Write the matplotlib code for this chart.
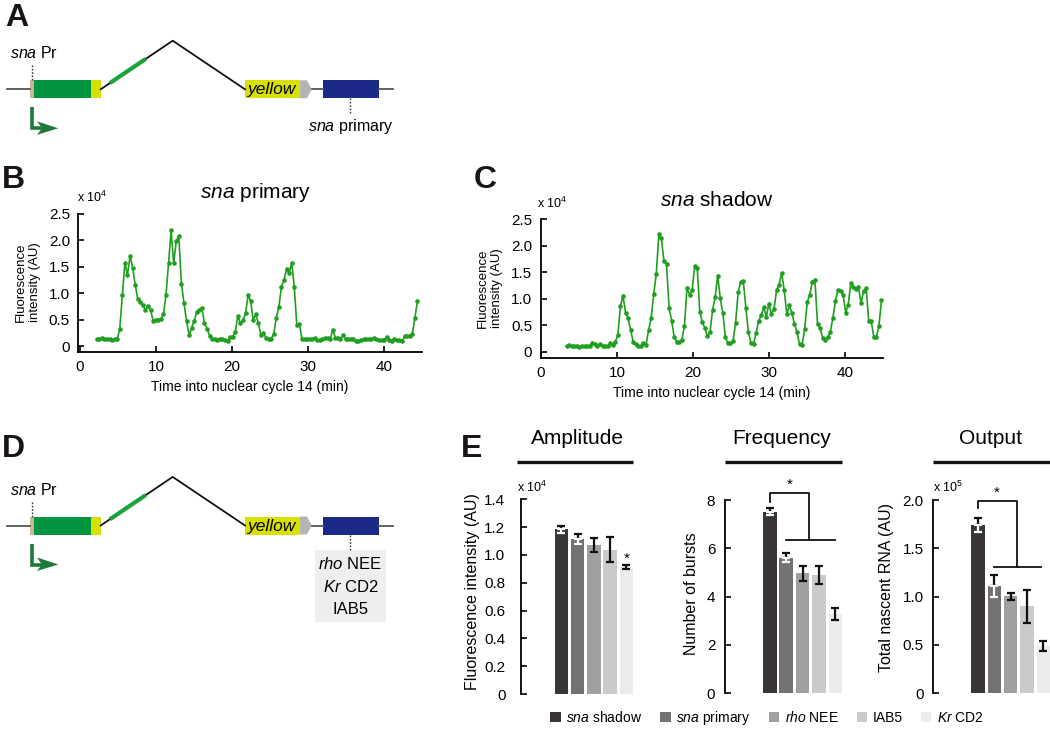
import numpy as np
import matplotlib
matplotlib.use("Agg")
import matplotlib.pyplot as plt
from matplotlib.patches import Rectangle, Polygon, Patch

plt.rcParams['font.family'] = ['Liberation Sans', 'DejaVu Sans']
plt.rcParams['mathtext.fontset'] = 'custom'
plt.rcParams['mathtext.rm'] = 'Liberation Sans'
plt.rcParams['mathtext.it'] = 'Liberation Sans:italic'
plt.rcParams['mathtext.bf'] = 'Liberation Sans:bold'

# ---------------- data ----------------
primary_t_start, primary_t_end = 2.2, 44.4
primary_vals = [0.13, 0.13, 0.16, 0.14, 0.14, 0.13, 0.11, 0.13, 0.13, 0.33, 0.96, 1.57, 1.34, 1.70,
                1.48, 1.16, 0.89, 0.84, 0.77, 0.68, 0.76, 0.68, 0.48, 0.50, 0.50, 0.51, 0.60, 0.96,
                1.56, 2.18, 1.56, 1.98, 2.08, 1.18, 0.82, 0.48, 0.21, 0.35, 0.48, 0.64, 0.69, 0.72,
                0.43, 0.33, 0.20, 0.14, 0.14, 0.12, 0.14, 0.13, 0.11, 0.10, 0.17, 0.18, 0.27, 0.57,
                0.43, 0.49, 0.62,
                0.96, 0.85, 0.49, 0.60, 0.43, 0.21, 0.24, 0.16, 0.13, 0.14, 0.23, 0.54, 0.74, 1.12,
                1.24, 1.46, 1.37, 1.57, 1.12, 0.39, 0.41, 0.13, 0.13, 0.13, 0.13, 0.14, 0.15, 0.12,
                0.11, 0.13, 0.15, 0.16, 0.13, 0.31, 0.16, 0.16, 0.14, 0.21, 0.13, 0.14, 0.14, 0.14,
                0.10, 0.10, 0.12, 0.13, 0.13, 0.13, 0.13, 0.15, 0.13, 0.12, 0.11, 0.11, 0.17, 0.12,
                0.09, 0.14, 0.12, 0.12, 0.09, 0.19, 0.20, 0.20, 0.23, 0.53, 0.85]

shadow_t_start, shadow_t_end = 3.4, 44.8
shadow_vals = [0.11, 0.125, 0.11, 0.11, 0.12, 0.09, 0.11, 0.11, 0.11, 0.12, 0.16, 0.14, 0.11, 0.14,
               0.11, 0.11, 0.11, 0.16, 0.13, 0.19, 0.32, 0.86, 1.06, 0.74, 0.63, 0.41, 0.19, 0.14,
               0.11, 0.11, 0.17, 0.125, 0.41, 0.64, 1.09, 1.47, 2.22, 2.14, 1.71, 1.66, 0.83, 0.59,
               0.28, 0.19, 0.19, 0.23, 0.48, 1.21, 1.08, 1.16, 1.61,
               1.58, 0.75, 0.56, 0.45, 0.29, 0.375, 0.79, 1.03, 1.44, 1.01, 0.73, 0.28, 0.16, 0.17,
               0.21, 0.55, 1.125, 1.32, 1.34, 0.83, 0.375, 0.16, 0.14, 0.36, 0.58, 0.69, 0.84, 0.66,
               0.91, 0.71, 0.80, 1.16, 1.27, 1.49, 1.16, 0.72, 0.875, 0.73, 0.53, 0.375, 0.14, 0.125,
               0.44, 0.94, 1.08, 1.325, 1.36, 0.53, 0.45, 0.27, 0.23, 0.28, 0.37, 0.64, 0.95, 1.17,
               1.15, 1.075, 0.74, 0.89, 1.29, 1.23, 1.19, 1.22, 0.925, 1.14, 1.21, 0.59, 0.58, 0.28,
               0.28, 0.49, 0.97]

groups = ["sna shadow", "sna primary", "rho NEE", "IAB5", "Kr CD2"]
group_labels = [r"$\mathit{sna}$ shadow", r"$\mathit{sna}$ primary", r"$\mathit{rho}$ NEE",
                "IAB5", r"$\mathit{Kr}$ CD2"]
amplitude = [1.185, 1.113, 1.07, 1.036, 0.916]
amplitude_err = [0.026, 0.036, 0.05, 0.09, 0.014]
frequency = [7.52, 5.61, 4.96, 4.89, 3.28]
frequency_err = [0.13, 0.19, 0.32, 0.36, 0.24]
output = [1.74, 1.11, 1.005, 0.90, 0.49]
output_err = [0.072, 0.109, 0.035, 0.17, 0.05]

bar_colors = ['#3a3536', '#727272', '#a0a0a0', '#cacaca', '#ececec']
green = '#1f9e1f'

W, H = 1050, 735
fig = plt.figure(figsize=(W / 100, H / 100), dpi=100)


def ax_px(l, t, r, b, **kw):
    return fig.add_axes([l / W, 1 - b / H, (r - l) / W, (b - t) / H], **kw)


def ftext(x, y, s, **kw):
    return fig.text(x / W, 1 - y / H, s, **kw)


# ---------------- diagrams (A, D) ----------------
bg = ax_px(0, 0, W, H)
bg.set_xlim(0, W)
bg.set_ylim(H, 0)
bg.axis('off')
bg.set_zorder(-5)


def gene(dy, box_text=False):
    yc = 89.3 + dy
    hh = 9
    bg.plot([7, 30], [yc, yc], color='#555555', lw=1.3)
    bg.add_patch(Rectangle((30, yc - hh), 4, 2 * hh, color='#c8b894', lw=0))
    bg.add_patch(Rectangle((34, yc - hh), 56.7, 2 * hh, color='#009440', lw=0))
    bg.add_patch(Rectangle((91, yc - hh), 9.7, 2 * hh, color='#d7e000', lw=0))
    bg.plot([100.7, 172.7, 245], [yc, yc - 48.6, yc], color='#111111', lw=1.3)
    bg.plot([110, 145.7], [yc - 6.3, yc - 30.4], color='#1aa33a', lw=3, solid_capstyle='butt')
    bg.add_patch(Rectangle((245, yc - hh), 54.3, 2 * hh, color='#d7e000', lw=0))
    bg.text(272, yc + 0.5, 'yellow', style='italic', fontsize=12.5, ha='center', va='center')
    bg.add_patch(Polygon([(299.3, yc - hh), (307, yc - hh), (311.7, yc), (307, yc + hh),
                          (299.3, yc + hh)], closed=True, color='#b4b4b4', lw=0))
    bg.plot([311.7, 322.7], [yc, yc], color='#555555', lw=1.3)
    bg.add_patch(Rectangle((322.7, yc - hh), 56.3, 2 * hh, color='#1b2a88', lw=0))
    bg.plot([379, 393.3], [yc, yc], color='#555555', lw=1.3)
    bg.plot([32, 32], [yc - 24, yc - hh], color='#333333', lw=1, ls=(0, (1.2, 1.2)))
    bg.text(10, yc - 36, r'$\mathit{sna}$ Pr', fontsize=11.5, ha='left', va='center')
    # promoter arrow
    ac = '#1d7a3c'
    bg.plot([31.7, 31.7, 44], [yc + 18, yc + 39, yc + 39], color=ac, lw=2.6,
            solid_joinstyle='miter', solid_capstyle='butt')
    bg.add_patch(Polygon([(37, yc + 32), (58.3, yc + 39), (37, yc + 45.5), (42, yc + 39)],
                         closed=True, color=ac, lw=0))
    bg.plot([350, 350], [yc + hh, yc + 24], color='#333333', lw=1, ls=(0, (1.2, 1.2)))
    if not box_text:
        bg.text(351, yc + 37.4, r'$\mathit{sna}$ primary', fontsize=11.5, ha='center', va='center')
    else:
        bg.add_patch(Rectangle((315, yc + 24), 71, 72.5, color='#eeeeee', lw=0))
        bg.text(350.5, yc + 38.5, r'$\mathit{rho}$ NEE', fontsize=12, ha='center', va='center')
        bg.text(350.5, yc + 61.5, r'$\mathit{Kr}$ CD2', fontsize=12, ha='center', va='center')
        bg.text(350.5, yc + 83.5, 'IAB5', fontsize=12, ha='center', va='center')


gene(0)
gene(436.2, box_text=True)

# panel letters
for lab, (x, y) in {'A': (5, 18), 'B': (2, 180), 'C': (474, 180), 'D': (2, 449), 'E': (461, 449)}.items():
    ftext(x, y, lab, fontsize=23, fontweight='bold', ha='left', va='center', color='#1a1414')


# ---------------- time series (B, C) ----------------
def style_ts(ax, xlim, title, title_xy, exp_xy, ylab_xy):
    ax.set_xlim(*xlim)
    ax.set_ylim(-0.11, 2.5)
    for s in ['top', 'right']:
        ax.spines[s].set_visible(False)
    for s in ['left', 'bottom']:
        ax.spines[s].set_linewidth(1.3)
    ax.set_xticks([0, 10, 20, 30, 40])
    ax.set_yticks([0, 0.5, 1.0, 1.5, 2.0, 2.5])
    ax.set_yticklabels(['0', '0.5', '1.0', '1.5', '2.0', '2.5'])
    ax.tick_params(direction='in', length=4, width=1.2, labelsize=11, pad=6)
    ax.set_xlabel('Time into nuclear cycle 14 (min)', fontsize=10, labelpad=4)
    ftext(title_xy[0], title_xy[1], title, fontsize=15, ha='center', va='center')
    ftext(exp_xy[0], exp_xy[1], r'x 10$^{4}$', fontsize=9, ha='left', va='center')
    ftext(ylab_xy[0], ylab_xy[1], 'Fluorescence\nintensity (AU)', fontsize=9.5, ha='center',
          va='center', linespacing=1.15, rotation=90)


axB = ax_px(78.3, 213.5, 422, 352)
tB = np.linspace(primary_t_start, primary_t_end, len(primary_vals))
axB.plot(tB, primary_vals, color=green, lw=1.2, marker='o', ms=2.3)
style_ts(axB, (-0.22, 45), r'$\mathit{sna}$ primary', (255, 193), (77, 197), (28, 282))

axC = ax_px(540.7, 219.3, 883, 357.7)
tC = np.linspace(shadow_t_start, shadow_t_end, len(shadow_vals))
axC.plot(tC, shadow_vals, color=green, lw=1.2, marker='o', ms=2.3)
style_ts(axC, (-0.02, 45), r'$\mathit{sna}$ shadow', (717, 200), (537, 203), (490, 288))


# ---------------- bar panels (E) ----------------
def bar_panel(box, vals, errs, ylim, yticks, yticklabels, xlim, pad):
    ax = ax_px(*box)
    x = np.arange(len(vals))
    ax.bar(x, vals, width=0.82, color=bar_colors, zorder=1)
    for i, (v, e) in enumerate(zip(vals, errs)):
        if i < 2:
            ax.errorbar([i], [v], yerr=[[0], [e]], fmt='none', ecolor='#111111', elinewidth=1.6,
                        capsize=3, capthick=1.6, zorder=3)
            ax.errorbar([i], [v], yerr=[[e], [0]], fmt='none', ecolor='white', elinewidth=1.6,
                        capsize=3, capthick=1.6, zorder=3)
        else:
            ax.errorbar([i], [v], yerr=[[e], [e]], fmt='none', ecolor='#111111', elinewidth=1.6,
                        capsize=3, capthick=1.6, zorder=3)
    ax.set_xlim(*xlim)
    ax.set_ylim(*ylim)
    for s in ['top', 'right', 'bottom']:
        ax.spines[s].set_visible(False)
    ax.spines['left'].set_linewidth(1.3)
    ax.set_xticks([])
    ax.set_yticks(yticks)
    ax.set_yticklabels(yticklabels)
    ax.tick_params(axis='y', direction='in', length=4, width=1.2, labelsize=11, pad=pad)
    return ax


axA = bar_panel((520.7, 499.3, 640, 694), amplitude, amplitude_err, (0, 1.4),
                [0, 0.2, 0.4, 0.6, 0.8, 1.0, 1.2, 1.4],
                ['0', '0.2', '0.4', '0.6', '0.8', '1.0', '1.2', '1.4'], (-2.52, 4.85), 11)
axA.text(4, 0.975, '*', fontsize=11, ha='center', va='center')

axF = bar_panel((725, 500, 842, 693.3), frequency, frequency_err, (0, 8),
                [0, 2, 4, 6, 8], ['0', '2', '4', '6', '8'], (-2.73, 4.4), 7)
axF.plot([0, 0, 2.4, 2.4], [7.93, 8.3, 8.3, 6.35], color='#111111', lw=1.3, clip_on=False)
axF.plot([1, 4], [6.35, 6.35], color='#111111', lw=1.3, clip_on=False)
axF.text(1.2, 8.62, '*', fontsize=11, ha='center', va='center')

axO = bar_panel((933.3, 500, 1050, 693.3), output, output_err, (0, 2.0),
                [0, 0.5, 1.0, 1.5, 2.0], ['0', '0.5', '1.0', '1.5', '2.0'], (-2.74, 4.4), 7)
axO.plot([0, 0, 2.37, 2.37], [1.914, 1.993, 1.993, 1.31], color='#111111', lw=1.3, clip_on=False)
axO.plot([1, 3.87], [1.31, 1.31], color='#111111', lw=1.3, clip_on=False)
axO.text(1.17, 2.07, '*', fontsize=11, ha='center', va='center')

# section headers
for title, cx, l, r in [('Amplitude', 577, 517, 633), ('Frequency', 782, 725, 842),
                        ('Output', 991, 933, 1050)]:
    ftext(cx, 438, title, fontsize=15, ha='center', va='center')
    bg.plot([l, r], [462, 462], color='#111111', lw=2.4, solid_capstyle='butt')

ftext(517, 487, r'x 10$^{4}$', fontsize=9, ha='left', va='center')
ftext(933, 487, r'x 10$^{5}$', fontsize=9, ha='left', va='center')
ftext(472, 592, 'Fluorescence intensity (AU)', fontsize=11.5, rotation=90, ha='center', va='center')
ftext(692, 594, 'Number of bursts', fontsize=11.5, rotation=90, ha='center', va='center')
ftext(886, 588, 'Total nascent RNA (AU)', fontsize=11.5, rotation=90, ha='center', va='center')

handles = [Patch(facecolor=c, edgecolor='none') for c in bar_colors]
fig.legend(handles, group_labels, loc='center', bbox_to_anchor=(767 / W, 1 - 718 / H), ncol=5,
           frameon=False, fontsize=10, handlelength=0.75, handleheight=0.75, handletextpad=0.4,
           columnspacing=1.3)

fig.savefig('out.png', dpi=100)
